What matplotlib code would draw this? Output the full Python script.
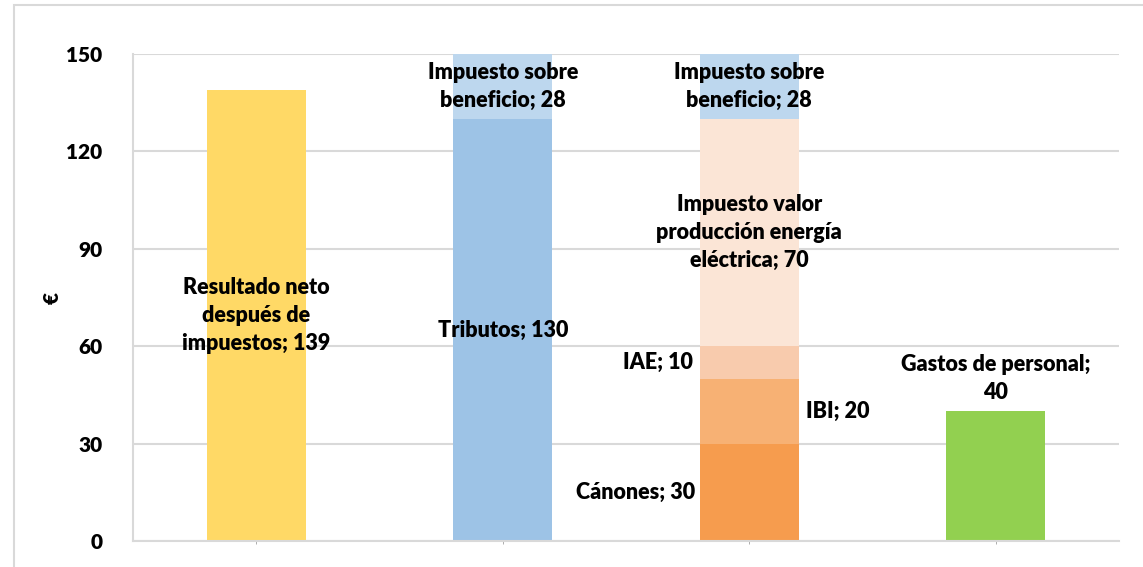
import matplotlib
matplotlib.use("Agg")
import matplotlib.pyplot as plt
from matplotlib.patches import Rectangle

# ---- data ----
categories = ["Resultado", "Tributos", "Desglose tributos", "Gastos de personal"]
resultado = [139, 0, 0, 0]
tributos = [0, 130, 0, 0]
canones = [0, 0, 30, 0]
ibi = [0, 0, 20, 0]
iae = [0, 0, 10, 0]
ivpee = [0, 0, 70, 0]
imp_beneficio = [0, 28, 28, 0]
gastos_personal = [0, 0, 0, 40]
yticks = [0, 30, 60, 90, 120, 150]
ylabel = "€"

W, H = 1143, 567
fig = plt.figure(figsize=(W / 100, H / 100), dpi=100)
plt.rcParams['font.family'] = ['Lato', 'DejaVu Sans']
WEIGHT = 800

# outer chart frame (cut off at right/bottom)
fig.patches.append(Rectangle((14 / W, -0.1), 1.2, (H - 5) / H + 0.1, transform=fig.transFigure,
                             fill=False, edgecolor="#d9d9d9", linewidth=1.5, zorder=0))

left, right, top, bottom = 133, 1119, 54, 541
ax = fig.add_axes([left / W, (H - bottom) / H, (right - left) / W, (bottom - top) / H])

x = list(range(len(categories)))
bw = 0.4

ax.bar(x, resultado, bw, color="#FFD966", zorder=2)
ax.bar(x, gastos_personal, bw, color="#92D050", zorder=2)
ax.bar(x, tributos, bw, color="#9DC3E6", zorder=2)

b0 = [0, 0, 0, 0]
b1 = [b0[i] + canones[i] for i in x]
b2 = [b1[i] + ibi[i] for i in x]
b3 = [b2[i] + iae[i] for i in x]
b4 = [b3[i] + ivpee[i] for i in x]
ax.bar(x, canones, bw, bottom=b0, color="#F69C4E", zorder=2)
ax.bar(x, ibi, bw, bottom=b1, color="#F7B174", zorder=2)
ax.bar(x, iae, bw, bottom=b2, color="#F8CBAD", zorder=2)
ax.bar(x, ivpee, bw, bottom=b3, color="#FBE5D6", zorder=2)
top_bottom = [tributos[i] + b4[i] for i in x]
ax.bar(x, imp_beneficio, bw, bottom=top_bottom, color="#BDD7EE", zorder=2)

ymax = yticks[-1]
ax.set_ylim(0, ymax)
ax.set_xlim(-0.5, len(categories) - 0.5)
ax.set_yticks(yticks)
ax.set_yticklabels([str(v) for v in yticks], fontsize=15, fontweight=WEIGHT)
ax.tick_params(axis="y", length=0, pad=22)
ax.set_xticks(x)
ax.set_xticklabels([])
ax.tick_params(axis="x", length=2, width=0.6, color="#a0a0a0", direction="out")
ax.grid(axis="y", color="#d9d9d9", linewidth=1.5, zorder=0)
for s in ["top", "right"]:
    ax.spines[s].set_visible(False)
for s in ["left", "bottom"]:
    ax.spines[s].set_color("#d9d9d9")
    ax.spines[s].set_linewidth(1.5)
ax.spines["left"].set_zorder(0)

fig.text(52 / W, 1 - 298 / H, ylabel, rotation=90, fontsize=15, fontweight=WEIGHT,
         ha="center", va="center")

fs = 15.5
kw = dict(fontsize=fs, fontweight=WEIGHT, zorder=5, linespacing=1.42)


def vis_mid(b, h):
    return (b + min(b + h, ymax)) / 2


ax.text(0, resultado[0] / 2, f"Resultado neto\ndespués de\nimpuestos; {resultado[0]}",
        ha="center", va="center", **kw)
ax.text(1, tributos[1] / 2, f"Tributos; {tributos[1]}", ha="center", va="center", **kw)
ax.text(1, vis_mid(top_bottom[1], imp_beneficio[1]), f"Impuesto sobre\nbeneficio; {imp_beneficio[1]}",
        ha="center", va="center", **kw)
ax.text(2 - bw / 2 - 0.02, vis_mid(b0[2], canones[2]), f"Cánones; {canones[2]}",
        ha="right", va="center", **kw)
ax.text(2 + bw / 2 + 0.03, vis_mid(b1[2], ibi[2]), f"IBI; {ibi[2]}",
        ha="left", va="center", **kw)
ax.text(2 - bw / 2 - 0.03, vis_mid(b2[2], iae[2]), f"IAE; {iae[2]}",
        ha="right", va="center", **kw)
ax.text(2, vis_mid(b3[2], ivpee[2]), f"Impuesto valor\nproducción energía\neléctrica; {ivpee[2]}",
        ha="center", va="center", **kw)
ax.text(2, vis_mid(top_bottom[2], imp_beneficio[2]), f"Impuesto sobre\nbeneficio; {imp_beneficio[2]}",
        ha="center", va="center", **kw)
ax.text(3, gastos_personal[3] + 2.5, f"Gastos de personal;\n{gastos_personal[3]}",
        ha="center", va="bottom", **kw)

fig.savefig("out.png", dpi=100)
